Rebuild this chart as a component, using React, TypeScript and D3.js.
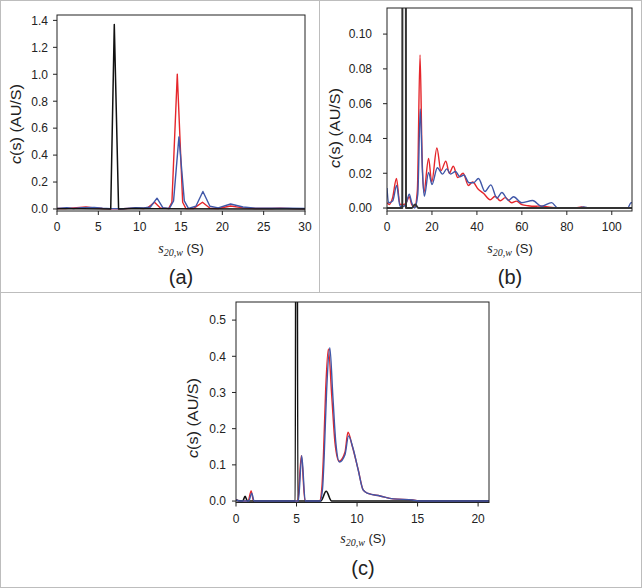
import React from 'react';
import * as d3 from 'd3';

type P = [number, number];

// ---------- Panel (a) ----------
const aXTicks = [0, 5, 10, 15, 20, 25, 30];
const aYTicks = [0, 0.2, 0.4, 0.6, 0.8, 1.0, 1.2, 1.4];
const aBlack: P[] = [[0, 0.001], [3, 0.002], [6.5, 0], [6.93, 1.37], [7.45, 0], [9.5, 0.003], [12, 0.001], [30, 0]];
const aRed: P[] = [[0, 0.003], [1, 0.004], [2, 0.008], [3.5, 0.015], [4.5, 0.008], [5.5, 0.004], [6.5, 0.002], [8, 0.002], [9.5, 0.006], [10.5, 0.004], [11, 0.01], [11.8, 0.05], [12.5, 0.008], [13.5, 0.003], [13.9, 0.05], [14.55, 1.0], [15.2, 0.05], [15.6, 0.003], [16.5, 0.003], [17.6, 0.05], [18.5, 0.005], [19.5, 0.004], [21, 0.022], [22.5, 0.008], [24, 0.004], [26, 0.004], [27, 0.006], [28.5, 0.003], [30, 0.002]];
const aBlue: P[] = [[0, 0.004], [1.2, 0.01], [2, 0.004], [3, 0.01], [4.5, 0.012], [5.5, 0.006], [6.5, 0.003], [8, 0.002], [9.5, 0.01], [10.5, 0.008], [11.3, 0.015], [12.1, 0.08], [12.8, 0.01], [13.6, 0.004], [14.1, 0.06], [14.75, 0.535], [15.4, 0.06], [15.9, 0.005], [16.8, 0.02], [17.65, 0.13], [18.5, 0.02], [19.5, 0.008], [21, 0.037], [22.5, 0.015], [24, 0.006], [26, 0.005], [28, 0.005], [30, 0.004]];

// ---------- Panel (b) ----------
const bXTicks = [0, 20, 40, 60, 80, 100];
const bYTicks = [0, 0.02, 0.04, 0.06, 0.08, 0.1];
const bBlack: P[] = [[0, 0], [6.8, 0], [7.0, 0.6], [7.6, 1.4], [8.25, 0.6], [8.45, 0], [11, 0], [12.5, 0.002], [14, 0], [109, 0]];
const bRed: P[] = [[0, 0.003], [1, 0.002], [2.5, 0.006], [4.2, 0.017], [5.8, 0.002], [7.5, 0.002], [8.5, 0.003], [9.9, 0.0065], [11, 0.002], [12.3, 0.0005], [13.5, 0.01], [14.7, 0.088], [15.6, 0.03], [16.4, 0.009], [18.5, 0.0285], [19.9, 0.015], [22.2, 0.0345], [24, 0.0215], [26.2, 0.027], [27.7, 0.02], [29.5, 0.024], [31.5, 0.0175], [33.9, 0.02], [36.2, 0.013], [38.1, 0.015], [40.5, 0.011], [42.9, 0.0085], [45.9, 0.0048], [48.1, 0.0068], [50.4, 0.0042], [52.6, 0.006], [55.5, 0.003], [57.6, 0.004], [60, 0.002], [62.8, 0.0013], [66, 0.001], [68, 0.0012], [72.4, 0.0005], [77, 0], [84, 0], [86.5, 0.0006], [89, 0], [109, 0]];
const bBlue: P[] = [[0, 0.0115], [0.7, 0.003], [2.5, 0.004], [4.3, 0.013], [5.8, 0.001], [7.5, 0.001], [8.6, 0.003], [9.9, 0.008], [11, 0.003], [12.3, 0], [13.7, 0.008], [14.8, 0.057], [15.8, 0.02], [16.6, 0.0068], [18.5, 0.0205], [20, 0.0135], [22.4, 0.0232], [24.7, 0.0195], [26.6, 0.0225], [28.3, 0.0195], [30.5, 0.021], [32.4, 0.018], [34.2, 0.019], [36.5, 0.0145], [38.5, 0.0145], [40.7, 0.017], [43.6, 0.0095], [46.2, 0.0133], [48.9, 0.0057], [51.1, 0.0089], [54.1, 0.0044], [56.3, 0.0065], [59.9, 0.003], [64.8, 0.0043], [68.8, 0.001], [73.2, 0.0031], [76, 0], [85, 0], [87.5, 0.0007], [90, 0], [107, 0], [108.6, 0.003], [109, 0.003]];

// ---------- Panel (c) ----------
const cXTicks = [0, 5, 10, 15, 20];
const cYTicks = [0, 0.1, 0.2, 0.3, 0.4, 0.5];
const cBlack: P[] = [[0, 0.002], [0.55, 0], [0.75, 0.013], [0.95, 0], [4.9, 0], [5.0, 3], [5.1, 0], [7.0, 0], [7.45, 0.027], [7.9, 0], [20.9, 0]];
const cRed: P[] = [[0, 0.004], [0.3, 0], [1.0, 0], [1.25, 0.028], [1.45, 0], [5.1, 0], [5.4, 0.125], [5.7, 0], [6.9, 0], [7.1, 0.04], [7.22, 0.123], [7.41, 0.31], [7.63, 0.42], [7.91, 0.29], [8.18, 0.16], [8.51, 0.11], [9.0, 0.135], [9.25, 0.19], [9.6, 0.152], [10.1, 0.086], [10.5, 0.031], [10.9, 0.021], [11.9, 0.014], [13, 0.006], [14.6, 0.003], [15.2, 0], [20.9, 0]];
const cBlue: P[] = [[0, 0.004], [0.3, 0], [1.05, 0], [1.3, 0.022], [1.5, 0], [5.15, 0], [5.43, 0.125], [5.72, 0], [6.95, 0], [7.15, 0.035], [7.28, 0.12], [7.48, 0.3], [7.75, 0.424], [8.0, 0.29], [8.25, 0.16], [8.55, 0.108], [9.0, 0.128], [9.3, 0.18], [9.65, 0.148], [10.1, 0.085], [10.5, 0.031], [10.9, 0.021], [11.9, 0.014], [13, 0.006], [14.6, 0.003], [15.2, 0], [20.9, 0]];

const RED = '#e5262b';
const BLUE = '#4057a8';
const BLACK = '#111111';

interface Series { data: P[]; color: string; width: number; }
interface Cfg {
  id: string;
  left: number; right: number; top: number; bottom: number;
  xDomain: [number, number]; yDomain: [number, number];
  xTicks: number[]; yTicks: number[];
  yFmt: (v: number) => string;
  yLabelGap: number;
  series: Series[];
  curve: d3.CurveFactory;
  yTitle: [number, number];
  xTitle: [number, number];
  tag: string;
  tagPos: [number, number];
}

const SANS = '"Liberation Sans", Arial, sans-serif';
const SERIF = '"Liberation Serif", "Times New Roman", serif';

function Panel({ cfg }: { cfg: Cfg }) {
  const x = d3.scaleLinear().domain(cfg.xDomain).range([cfg.left, cfg.right]);
  const y = d3.scaleLinear().domain(cfg.yDomain).range([cfg.bottom, cfg.top]);
  const line = d3.line<P>().x(d => x(d[0])).y(d => y(d[1])).curve(cfg.curve);
  const clipId = 'clip-' + cfg.id;
  const xf = d3.format('d');
  return (
    <g>
      <defs>
        <clipPath id={clipId}>
          <rect x={cfg.left} y={cfg.top} width={cfg.right - cfg.left} height={cfg.bottom - cfg.top} />
        </clipPath>
      </defs>
      <g clipPath={`url(#${clipId})`}>
        {cfg.series.map((s, i) => (
          <path key={i} d={line(s.data) || ''} fill="none" stroke={s.color} strokeWidth={s.width} strokeLinejoin="round" />
        ))}
      </g>
      <rect x={cfg.left} y={cfg.top} width={cfg.right - cfg.left} height={cfg.bottom - cfg.top} fill="none" stroke="#222" strokeWidth={1} />
      {cfg.yTicks.map(t => (
        <g key={'y' + t}>
          <line x1={cfg.left - 4} x2={cfg.left} y1={y(t)} y2={y(t)} stroke="#222" strokeWidth={1} />
          <text x={cfg.left - cfg.yLabelGap} y={y(t)} dy="0.36em" textAnchor="end" fontFamily={SANS} fontSize={12} fill="#222">{cfg.yFmt(t)}</text>
        </g>
      ))}
      {cfg.xTicks.map(t => (
        <g key={'x' + t}>
          <line x1={x(t)} x2={x(t)} y1={cfg.bottom} y2={cfg.bottom + 4} stroke="#222" strokeWidth={1} />
          <text x={x(t)} y={cfg.bottom + 20} textAnchor="middle" fontFamily={SANS} fontSize={12} fill="#222">{xf(t)}</text>
        </g>
      ))}
      <text transform={`translate(${cfg.yTitle[0]},${cfg.yTitle[1]}) rotate(-90)`} textAnchor="middle" dy="0.35em" fontFamily={SANS} fontSize={14} fill="#222" textLength={80} lengthAdjust="spacingAndGlyphs">
        <tspan fontStyle="italic">c</tspan>(s) (AU/S)
      </text>
      <text x={cfg.xTitle[0]} y={cfg.xTitle[1]} textAnchor="middle" dy="0.35em" fontFamily={SANS} fontSize={13} fill="#222">
        <tspan fontFamily={SERIF} fontStyle="italic" fontSize={14}>s</tspan>
        <tspan fontFamily={SERIF} fontStyle="italic" fontSize={10} dy="3">20,w</tspan>
        <tspan dy="-3"> (S)</tspan>
      </text>
      <text x={cfg.tagPos[0]} y={cfg.tagPos[1]} textAnchor="middle" dy="0.35em" fontFamily={SANS} fontSize={20} fill="#222">{cfg.tag}</text>
    </g>
  );
}

const cfgA: Cfg = {
  id: 'a', left: 57, right: 305, top: 15, bottom: 211,
  xDomain: [0, 30], yDomain: [-0.015, 1.44],
  xTicks: aXTicks, yTicks: aYTicks, yFmt: d3.format('.1f'), yLabelGap: 9,
  series: [
    { data: aRed, color: RED, width: 1.4 },
    { data: aBlue, color: BLUE, width: 1.4 },
    { data: aBlack, color: BLACK, width: 1.5 },
  ],
  curve: d3.curveLinear,
  yTitle: [16, 124], xTitle: [181, 248], tag: '(a)', tagPos: [181, 277],
};

const cfgB: Cfg = {
  id: 'b', left: 387, right: 632, top: 8, bottom: 211,
  xDomain: [0, 109], yDomain: [-0.0017, 0.115],
  xTicks: bXTicks, yTicks: bYTicks, yFmt: d3.format('.2f'), yLabelGap: 15,
  series: [
    { data: bRed, color: RED, width: 1.4 },
    { data: bBlue, color: BLUE, width: 1.4 },
    { data: bBlack, color: '#333', width: 2 },
  ],
  curve: d3.curveMonotoneX,
  yTitle: [335, 128], xTitle: [510, 248], tag: '(b)', tagPos: [510, 277],
};

const cfgC: Cfg = {
  id: 'c', left: 236, right: 489, top: 302, bottom: 502.5,
  xDomain: [0, 20.9], yDomain: [-0.004, 0.55],
  xTicks: cXTicks, yTicks: cYTicks, yFmt: d3.format('.1f'), yLabelGap: 10,
  series: [
    { data: cRed, color: RED, width: 1.4 },
    { data: cBlack, color: BLACK, width: 1.6 },
    { data: cBlue, color: BLUE, width: 1.4 },
  ],
  curve: d3.curveMonotoneX,
  yTitle: [193, 418], xTitle: [363, 538], tag: '(c)', tagPos: [363, 568],
};

export default function App() {
  return (
    <svg width={642} height={588} style={{ position: 'absolute', left: 0, top: 0, background: '#fff' }}>
      <rect x={0.5} y={0.5} width={641} height={587} fill="#fff" stroke="#bdbdbd" strokeWidth={1} />
      <line x1={319.5} x2={319.5} y1={0} y2={292.5} stroke="#bdbdbd" strokeWidth={1} />
      <line x1={0} x2={642} y1={292.5} y2={292.5} stroke="#bdbdbd" strokeWidth={1} />
      <Panel cfg={cfgA} />
      <Panel cfg={cfgB} />
      <Panel cfg={cfgC} />
    </svg>
  );
}
